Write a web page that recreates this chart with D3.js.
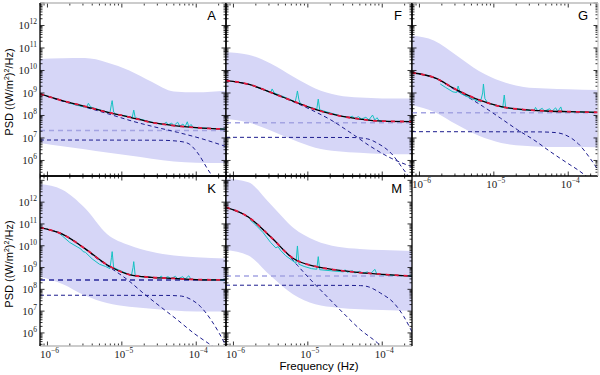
<!DOCTYPE html>
<html><head><meta charset="utf-8">
<script src="https://cdn.jsdelivr.net/npm/d3@7"></script>
<style>body{margin:0;background:#fff}svg{display:block}</style>
</head><body><svg id="c" width="600" height="375"></svg>
<script>
// ---- DATA (all values are log10 exponents: [log10 f(Hz), log10 PSD]) ----
const panelNames = ["A", "F", "G", "K", "M"];
const logFreqGrid = [-6.1, -5.8, -5.5, -5.2, -4.9, -4.6, -4.3, -4.0, -3.6];
const xTickExps = [-6, -5, -4];
const yTickExps = [6, 7, 8, 9, 10, 11, 12];

// model fit (black solid + red dashed), on logFreqGrid
const modelA = [8.96, 8.66, 8.41, 8.15, 7.93, 7.69, 7.55, 7.46, 7.39];
const modelF = [9.55, 9.39, 9.03, 8.64, 8.27, 8.0, 7.84, 7.75, 7.73];
const modelG = [9.9, 9.68, 9.14, 8.69, 8.39, 8.26, 8.2, 8.17, 8.14];
const modelK = [10.83, 10.53, 9.88, 9.13, 8.68, 8.55, 8.5, 8.45, 8.43];
const modelM = [11.76, 11.32, 10.41, 9.43, 9.05, 8.88, 8.77, 8.69, 8.61];

// confidence band, on logFreqGrid
const bandHiA = [10.51, 10.54, 10.55, 10.36, 10.0, 9.5, 9.07, 9.03, 9.1];
const bandHiF = [10.81, 10.7, 10.31, 9.73, 9.2, 8.9, 8.8, 8.76, 8.75];
const bandHiG = [11.55, 11.32, 10.67, 9.98, 9.52, 9.27, 9.2, 9.17, 9.13];
const bandHiK = [12.83, 12.57, 11.74, 10.54, 10.02, 9.72, 9.55, 9.47, 9.41];
const bandHiM = [13.09, 12.91, 11.9, 10.84, 10.24, 9.95, 9.85, 9.8, 9.76];
const bandLoA = [6.78, 6.63, 6.5, 6.35, 6.22, 6.08, 5.95, 5.9, 5.89];
const bandLoF = [7.84, 7.69, 7.33, 6.92, 6.57, 6.41, 6.34, 6.29, 6.28];
const bandLoG = [8.47, 8.16, 7.6, 7.1, 6.78, 6.65, 6.6, 6.6, 6.59];
const bandLoK = [8.58, 8.25, 7.73, 7.37, 7.2, 7.11, 7.03, 6.98, 6.98];
const bandLoM = [9.81, 9.55, 8.62, 7.77, 7.31, 7.16, 7.09, 7.05, 7.02];

// white-noise level (flat dashed), panel order A F G K M
const whiteLevel = [7.33, 7.68, 8.12, 8.43, 8.61];

// bending component (flat then dropping)
const bendA = [[-6.1, 6.91], [-4.5, 6.9], [-4.25, 6.86], [-4.11, 6.76], [-3.98, 6.33], [-3.84, 5.58], [-3.7, 4.9]];
const bendF = [[-6.1, 7.03], [-4.4, 7.02], [-4.2, 6.96], [-4.06, 6.76], [-3.88, 6.32], [-3.71, 5.58], [-3.6, 5.1]];
const bendG = [[-6.1, 7.28], [-4.4, 7.27], [-4.17, 7.24], [-4.05, 7.15], [-3.87, 6.76], [-3.69, 6.02], [-3.6, 5.58]];
const bendK = [[-6.1, 7.73], [-4.4, 7.72], [-4.2, 7.69], [-4.11, 7.6], [-3.94, 7.2], [-3.8, 6.59], [-3.69, 5.98], [-3.6, 5.4]];
const bendM = [[-6.1, 8.19], [-4.45, 8.18], [-4.29, 8.17], [-4.19, 8.12], [-4.02, 7.82], [-3.84, 7.36], [-3.71, 6.75], [-3.59, 5.98]];

// red-noise power-law component
const powerA = [[-6.1, 8.95], [-5.74, 8.58], [-5.46, 8.34], [-5.15, 8.04], [-4.84, 7.73], [-4.57, 7.5], [-4.25, 7.25], [-3.94, 6.98], [-3.6, 6.62]];
const powerF = [[-6.1, 9.55], [-5.8, 9.39], [-5.5, 9.03], [-5.2, 8.62], [-4.96, 8.26], [-4.69, 7.8], [-4.42, 7.22], [-4.15, 6.61], [-3.88, 6.1], [-3.6, 5.72]];
const powerG = [[-6.1, 9.9], [-5.8, 9.67], [-5.5, 9.1], [-5.36, 8.84], [-5.14, 8.39], [-4.91, 7.88], [-4.68, 7.36], [-4.46, 6.91], [-4.24, 6.39], [-4.01, 5.88], [-3.87, 5.58], [-3.7, 5.15]];
const powerK = [[-6.1, 10.83], [-5.8, 10.53], [-5.5, 9.87], [-5.3, 9.33], [-5.15, 8.98], [-4.92, 8.43], [-4.71, 7.82], [-4.48, 7.2], [-4.25, 6.59], [-4.03, 5.98], [-3.84, 5.53], [-3.7, 5.2]];
const powerM = [[-6.1, 11.76], [-5.8, 11.32], [-5.5, 10.4], [-5.3, 9.72], [-5.14, 9.1], [-4.96, 8.43], [-4.74, 7.66], [-4.52, 6.9], [-4.29, 6.14], [-4.06, 5.53], [-3.9, 5.0]];

// observed periodogram (cyan)
const dataA = [[-5.75, 8.6], [-5.6, 8.45], [-5.5, 8.38], [-5.47, 8.4], [-5.45, 8.54], [-5.42, 8.38], [-5.3, 8.25], [-5.16, 8.12], [-5.14, 8.5], [-5.13, 8.66], [-5.11, 8.15], [-5.08, 8.06], [-4.95, 7.98], [-4.86, 7.92], [-4.84, 8.24], [-4.82, 7.9], [-4.6, 7.7], [-4.45, 7.6], [-4.4, 7.7], [-4.38, 7.58], [-4.33, 7.66], [-4.3, 7.55], [-4.25, 7.7], [-4.22, 7.52], [-4.18, 7.62], [-4.15, 7.5], [-4.12, 7.72], [-4.1, 7.5], [-4.07, 7.6], [-4.04, 7.46], [-3.9, 7.44], [-3.6, 7.39]];
const dataF = [[-5.72, 9.3], [-5.6, 9.15], [-5.5, 9.02], [-5.48, 9.18], [-5.45, 9.0], [-5.3, 8.8], [-5.17, 8.6], [-5.15, 8.9], [-5.14, 9.09], [-5.12, 8.7], [-5.1, 8.52], [-5.0, 8.4], [-4.88, 8.28], [-4.86, 8.73], [-4.84, 8.25], [-4.6, 8.02], [-4.45, 7.9], [-4.4, 7.97], [-4.37, 7.86], [-4.32, 7.95], [-4.28, 7.84], [-4.22, 7.92], [-4.18, 7.8], [-4.13, 8.02], [-4.1, 7.8], [-4.07, 7.9], [-4.04, 7.76], [-3.9, 7.73], [-3.6, 7.74]];
const dataG = [[-5.72, 9.4], [-5.65, 9.25], [-5.55, 9.05], [-5.5, 9.02], [-5.48, 9.31], [-5.45, 8.98], [-5.3, 8.75], [-5.18, 8.6], [-5.15, 9.0], [-5.14, 9.4], [-5.12, 8.75], [-5.08, 8.55], [-4.95, 8.42], [-4.88, 8.36], [-4.86, 8.91], [-4.84, 8.33], [-4.6, 8.24], [-4.46, 8.22], [-4.44, 8.36], [-4.41, 8.2], [-4.35, 8.32], [-4.32, 8.19], [-4.25, 8.3], [-4.22, 8.18], [-4.17, 8.34], [-4.14, 8.18], [-4.1, 8.38], [-4.08, 8.17], [-4.0, 8.17], [-3.6, 8.14]];
const dataK = [[-5.87, 10.64], [-5.8, 10.45], [-5.7, 10.15], [-5.6, 9.95], [-5.55, 9.85], [-5.52, 9.73], [-5.49, 9.7], [-5.4, 9.4], [-5.3, 9.15], [-5.22, 9.05], [-5.16, 8.95], [-5.14, 9.45], [-5.13, 9.73], [-5.11, 9.0], [-5.05, 8.9], [-4.95, 8.75], [-4.87, 8.65], [-4.85, 9.0], [-4.84, 9.27], [-4.82, 8.62], [-4.7, 8.57], [-4.5, 8.52], [-4.47, 8.61], [-4.44, 8.5], [-4.38, 8.58], [-4.34, 8.49], [-4.28, 8.6], [-4.25, 8.48], [-4.18, 8.58], [-4.15, 8.47], [-4.1, 8.62], [-4.07, 8.46], [-3.9, 8.44], [-3.6, 8.43]];
const dataM = [[-5.78, 11.2], [-5.7, 10.95], [-5.6, 10.6], [-5.5, 10.15], [-5.43, 9.9], [-5.4, 9.96], [-5.37, 9.8], [-5.3, 9.55], [-5.22, 9.35], [-5.16, 9.2], [-5.14, 9.99], [-5.12, 9.15], [-5.05, 9.05], [-4.95, 8.95], [-4.88, 8.92], [-4.86, 9.5], [-4.84, 8.9], [-4.65, 8.84], [-4.52, 8.8], [-4.5, 8.9], [-4.47, 8.78], [-4.4, 8.86], [-4.37, 8.75], [-4.3, 8.83], [-4.27, 8.73], [-4.2, 8.8], [-4.16, 8.7], [-4.1, 8.92], [-4.07, 8.68], [-3.9, 8.65], [-3.6, 8.61]];

// ---- lookup built from the arrays ----
const seriesByPanel = {
  A: {model: modelA, hi: bandHiA, lo: bandLoA, bend: bendA, power: powerA, data: dataA},
  F: {model: modelF, hi: bandHiF, lo: bandLoF, bend: bendF, power: powerF, data: dataF},
  G: {model: modelG, hi: bandHiG, lo: bandLoG, bend: bendG, power: powerG, data: dataG},
  K: {model: modelK, hi: bandHiK, lo: bandLoK, bend: bendK, power: powerK, data: dataK},
  M: {model: modelM, hi: bandHiM, lo: bandLoM, bend: bendM, power: powerM, data: dataM}
};

// ---- LAYOUT ----
const PW = 186;
const xDom = [-6.1, -3.6];
const layout = {
  A: {x0: 40, y0: 3, h: 173, lo: 5.31, hi: 13.0, ylab: true, xlab: false, top: "#bbb", bottom: "#000", right: "#000", whiteCol: "#a4a4e2"},
  F: {x0: 226, y0: 3, h: 173, lo: 5.31, hi: 13.0, ylab: false, xlab: false, top: "#bbb", bottom: "#000", right: "#000", whiteCol: "#a4a4e2"},
  G: {x0: 412, y0: 3, h: 173, lo: 5.31, hi: 13.0, ylab: false, xlab: true, top: "#bbb", bottom: "#000", right: "#ccc", whiteCol: "#a4a4e2"},
  K: {x0: 40, y0: 176, h: 170, lo: 5.4, hi: 13.2, ylab: true, xlab: true, top: "#000", bottom: "#bbb", right: "#000", whiteCol: "#2a2a9c"},
  M: {x0: 226, y0: 176, h: 170, lo: 5.4, hi: 13.2, ylab: false, xlab: true, top: "#000", bottom: "#bbb", right: "#000", whiteCol: "#a4a4e2"}
};

const svg = d3.select("#c");
const defs = svg.append("defs");
const serif = "'Liberation Serif','DejaVu Serif',serif";
const sans = "'Liberation Sans',Arial,sans-serif";

function supLabel(sel, exp) {
  sel.append("tspan").text("10");
  sel.append("tspan").attr("dy", -5).attr("font-size", 7.5).text(exp < 0 ? "\u2212" + (-exp) : String(exp));
}

panelNames.forEach(name => {
  const L = layout[name], S = seriesByPanel[name];
  const x = d3.scaleLog().domain(xDom.map(v => 10 ** v)).range([L.x0, L.x0 + PW]);
  const y = d3.scaleLog().domain([10 ** L.lo, 10 ** L.hi]).range([L.y0 + L.h, L.y0]);
  const X = f => x(10 ** f), Y = v => y(10 ** v);

  defs.append("clipPath").attr("id", "clip" + name)
    .append("rect").attr("x", L.x0).attr("y", L.y0).attr("width", PW).attr("height", L.h);
  const g = svg.append("g").attr("clip-path", `url(#clip${name})`);

  // band
  const bandPts = logFreqGrid.map((f, i) => [f, S.lo[i], S.hi[i]]);
  g.append("path").datum(bandPts)
    .attr("d", d3.area().x(d => X(d[0])).y0(d => Y(d[1])).y1(d => Y(d[2])).curve(d3.curveMonotoneX))
    .attr("fill", "#d6d6f7");

  const line = d3.line().x(d => X(d[0])).y(d => Y(d[1])).curve(d3.curveMonotoneX);

  // white level
  const wl = whiteLevel[panelNames.indexOf(name)];
  g.append("path").datum([[xDom[0], wl], [xDom[1], wl]]).attr("d", line)
    .attr("fill", "none").attr("stroke", L.whiteCol).attr("stroke-width", 1.4).attr("stroke-dasharray", "5,4");

  // components
  g.append("path").datum(S.bend).attr("d", line)
    .attr("fill", "none").attr("stroke", "#1c1c8e").attr("stroke-width", 1).attr("stroke-dasharray", "4,3");
  g.append("path").datum(S.power).attr("d", line)
    .attr("fill", "none").attr("stroke", "#1c1c8e").attr("stroke-width", 1).attr("stroke-dasharray", "4,3");

  // data
  g.append("path").datum(S.data)
    .attr("d", d3.line().x(d => X(d[0])).y(d => Y(d[1])))
    .attr("fill", "none").attr("stroke", "#14c2c2").attr("stroke-width", 1);

  // model
  const modelPts = logFreqGrid.map((f, i) => [f, S.model[i]]);
  g.append("path").datum(modelPts).attr("d", line)
    .attr("fill", "none").attr("stroke", "#000").attr("stroke-width", 1.3);
  g.append("path").datum(modelPts).attr("d", line)
    .attr("fill", "none").attr("stroke", "#e5173d").attr("stroke-width", 1.8).attr("stroke-dasharray", "4,5");

  // ticks
  const tk = svg.append("g").attr("stroke", "#000").attr("stroke-width", 0.8);
  const xt = [];
  for (let e = -7; e <= -3; e++) for (let m = 1; m <= 9; m++) {
    const lv = e + Math.log10(m);
    if (lv >= xDom[0] && lv <= xDom[1]) xt.push([lv, m === 1]);
  }
  xt.forEach(([lv, maj]) => {
    const px = X(lv), len = maj ? 4.5 : 2.5;
    tk.append("line").attr("x1", px).attr("x2", px).attr("y1", L.y0 + L.h).attr("y2", L.y0 + L.h - len);
    tk.append("line").attr("x1", px).attr("x2", px).attr("y1", L.y0).attr("y2", L.y0 + len);
  });
  const yt = [];
  for (let e = 5; e <= 13; e++) for (let m = 1; m <= 9; m++) {
    const lv = e + Math.log10(m);
    if (lv >= L.lo && lv <= L.hi) yt.push([lv, m === 1]);
  }
  yt.forEach(([lv, maj]) => {
    const py = Y(lv), len = maj ? 4.5 : 2.5;
    tk.append("line").attr("y1", py).attr("y2", py).attr("x1", L.x0).attr("x2", L.x0 + len);
    tk.append("line").attr("y1", py).attr("y2", py).attr("x1", L.x0 + PW).attr("x2", L.x0 + PW - len);
  });

  // spines
  const sp = svg.append("g").attr("stroke-width", 1.3);
  sp.append("line").attr("x1", L.x0).attr("x2", L.x0 + PW).attr("y1", L.y0).attr("y2", L.y0).attr("stroke", L.top);
  sp.append("line").attr("x1", L.x0).attr("x2", L.x0 + PW).attr("y1", L.y0 + L.h).attr("y2", L.y0 + L.h).attr("stroke", L.bottom);
  sp.append("line").attr("x1", L.x0 + PW).attr("x2", L.x0 + PW).attr("y1", L.y0).attr("y2", L.y0 + L.h).attr("stroke", L.right);
  sp.append("line").attr("x1", L.x0).attr("x2", L.x0).attr("y1", L.y0).attr("y2", L.y0 + L.h).attr("stroke", "#000");

  // tick labels
  if (L.ylab) {
    yTickExps.forEach(e => {
      const t = svg.append("text").attr("x", L.x0 - 3).attr("y", Y(e) + 4)
        .attr("text-anchor", "end").attr("font-family", serif).attr("font-size", 11).attr("fill", "#222");
      supLabel(t, e);
    });
  }
  if (L.xlab) {
    xTickExps.forEach(e => {
      const t = svg.append("text").attr("x", X(e) + 2).attr("y", L.y0 + L.h + 12)
        .attr("text-anchor", "middle").attr("font-family", serif).attr("font-size", 11).attr("fill", "#222");
      supLabel(t, e);
    });
  }

  // panel letter
  svg.append("text").attr("x", L.x0 + PW - 10).attr("y", L.y0 + 17)
    .attr("text-anchor", "end").attr("font-family", sans).attr("font-size", 13).text(name);
});

// axis titles
function yTitle(cy) {
  const t = svg.append("text").attr("transform", `translate(13,${cy}) rotate(-90)`)
    .attr("text-anchor", "middle").attr("font-family", sans).attr("font-size", 11);
  t.append("tspan").text("PSD  ((W/m");
  t.append("tspan").attr("dy", -4).attr("font-size", 7).text("2");
  t.append("tspan").attr("dy", 4).text(")");
  t.append("tspan").attr("dy", -4).attr("font-size", 7).text("2");
  t.append("tspan").attr("dy", 4).text("/Hz)");
}
yTitle(92);
yTitle(264);
svg.append("text").attr("x", 319).attr("y", 370).attr("text-anchor", "middle")
  .attr("font-family", sans).attr("font-size", 11.5).text("Frequency (Hz)");
</script>
</body></html>
